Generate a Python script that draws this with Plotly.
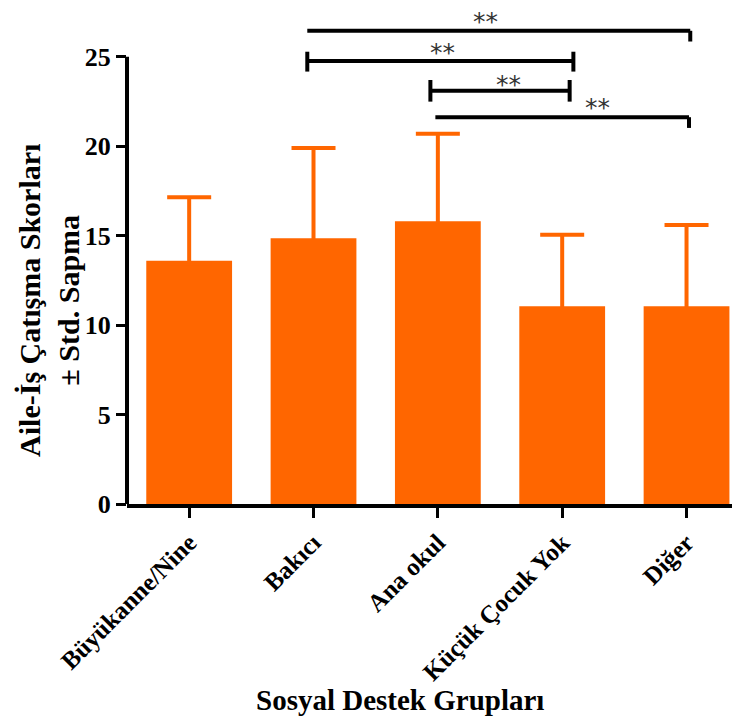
import plotly.graph_objects as go

categories = ["Büyükanne/Nine", "Bakıcı", "Ana okul", "Küçük Çocuk Yok", "Diğer"]
means = [13.6, 14.85, 15.8, 11.05, 11.05]
sds = [3.55, 5.05, 4.9, 4.0, 4.55]
y_ticks = [0, 5, 10, 15, 20, 25]

# significance brackets: (x_left, x_right, y, left_tick, right_tick)
brackets = [
    (0.95, 4.03, 26.45, None, (25.85, 26.45)),
    (0.95, 3.09, 24.76, (24.17, 25.28), (24.17, 25.28)),
    (1.94, 3.06, 23.1, (22.49, 23.7), (22.49, 23.7)),
    (1.98, 4.02, 21.62, None, (21.02, 21.62)),
]
star_x = [2.38, 2.04, 2.57, 3.28]
star_y = [27.24, 25.5, 23.7, 22.46]
star_text = ["**", "**", "**", "**"]

ORANGE = "#FF6600"
FONT = "Liberation Serif"
HIDDEN_BASE = 0.15  # lower cap hidden inside the bar (only upward SD shown)

fig = go.Figure()
fig.add_trace(go.Bar(
    x=list(range(len(categories))), y=means,
    marker=dict(color=ORANGE, line=dict(width=0)),
    error_y=dict(type="data", symmetric=False, array=sds,
                 arrayminus=[HIDDEN_BASE] * len(means),
                 color=ORANGE, thickness=4, width=22),
    width=0.69,
))

shapes = []
for (x0, x1, y, lt, rt) in brackets:
    shapes.append(dict(type="line", xref="x", yref="y", x0=x0, x1=x1, y0=y, y1=y,
                       line=dict(color="black", width=4)))
    if lt:
        shapes.append(dict(type="line", xref="x", yref="y", x0=x0, x1=x0, y0=lt[0], y1=lt[1],
                           line=dict(color="black", width=4)))
    if rt:
        shapes.append(dict(type="line", xref="x", yref="y", x0=x1, x1=x1, y0=rt[0], y1=rt[1],
                           line=dict(color="black", width=4)))
# y axis line from 0 to 25
shapes.append(dict(type="line", xref="paper", yref="y", x0=0, x1=0, y0=0, y1=y_ticks[-1],
                   line=dict(color="black", width=4), layer="above"))

annotations = []
for sx, sy, st in zip(star_x, star_y, star_text):
    # asterisks sit high in their text box; shift the box so the glyphs land on sy
    annotations.append(dict(x=sx, y=sy, xref="x", yref="y", text=st, showarrow=False,
                            font=dict(family="DejaVu Sans", size=25, color="#333333"),
                            xanchor="center", yanchor="middle", yshift=-5))
annotations.append(dict(x=0, y=11.35, xref="paper", yref="y", xshift=-78,
                        text="<b>Aile-İş Çatışma Skorları<br>± Std. Sapma</b>",
                        textangle=-90, showarrow=False,
                        font=dict(family=FONT, size=30, color="black"),
                        xanchor="center", yanchor="middle"))
annotations.append(dict(x=0.445, y=0, xref="paper", yref="paper", yshift=-196,
                        text="<b>Sosyal Destek Grupları</b>", showarrow=False,
                        font=dict(family=FONT, size=29, color="black"),
                        xanchor="center", yanchor="middle"))

# the page body adds an 8px offset; margins compensate so the plot sits as in the reference
fig.update_layout(
    width=740, height=718,
    margin=dict(l=119, r=8, t=4, b=222),
    plot_bgcolor="white", paper_bgcolor="white",
    showlegend=False,
    shapes=shapes, annotations=annotations,
    xaxis=dict(
        range=[-0.5, 4.43], automargin=False,
        tickmode="array", tickvals=list(range(len(categories))),
        ticktext=["<b>%s</b>" % c for c in categories],
        tickangle=-45,
        tickfont=dict(family=FONT, size=25, color="black"),
        ticks="outside", ticklen=10, tickwidth=3, tickcolor="black",
        showline=True, linecolor="black", linewidth=4,
        showgrid=False, zeroline=False,
    ),
    yaxis=dict(
        range=[0, 27.5], automargin=False,
        tickmode="array", tickvals=y_ticks,
        ticktext=["<b>%d</b>" % v for v in y_ticks],
        tickfont=dict(family=FONT, size=26, color="black"),
        ticks="outside", ticklen=10, tickwidth=3, tickcolor="black",
        showline=False, showgrid=False, zeroline=False,
    ),
)

fig.write_html("out.html")
